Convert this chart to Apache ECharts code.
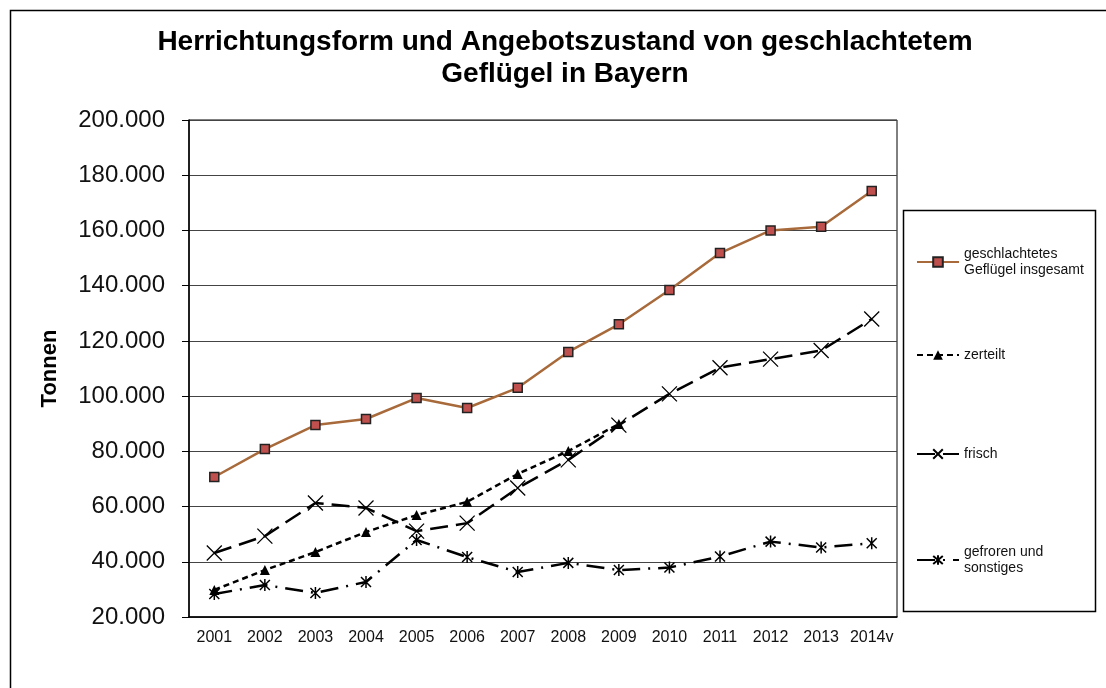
<!DOCTYPE html>
<html>
<head>
<meta charset="utf-8">
<script src="https://cdn.jsdelivr.net/npm/echarts@6/dist/echarts.min.js"></script>
<style>
  html, body { margin: 0; padding: 0; background: #fff; }
  #chart { width: 1106px; height: 688px; }
</style>
</head>
<body>
<div id="chart"></div>
<script>
const years = ['2001', '2002', '2003', '2004', '2005', '2006', '2007', '2008', '2009', '2010', '2011', '2012', '2013', '2014v']

// Tonnen
const insgesamt = [70700, 80800, 89500, 91700, 99300, 95700, 103000, 116000, 126000, 138400, 151800, 160000, 161300, 174300]
const zerteilt = [29800, 37000, 43500, 50800, 56900, 61700, 71800, 80100, 89900, null, null, null, null, null]
const frisch = [43200, 49300, 61300, 59500, 51100, 54000, 66700, 76900, 89500, 100800, 110300, 113400, 116500, 127900]
const gefroren = [28300, 31600, 28700, 32700, 47900, 41700, 36300, 39600, 37000, 37900, 41900, 47300, 45200, 46700]

const names = ['geschlachtetes Geflügel insgesamt', 'zerteilt', 'frisch', 'gefroren und sonstiges']
const legendText = {
  'geschlachtetes Geflügel insgesamt': 'geschlachtetes\nGeflügel insgesamt',
  'zerteilt': 'zerteilt',
  'frisch': 'frisch',
  'gefroren und sonstiges': 'gefroren und\nsonstiges'
}

const font = '"Liberation Sans", Arial, sans-serif'
const crossPath = 'path://M0,0L10,10M10,0L0,10'
const starPath = 'path://M0,0L10,10M10,0L0,10M5,-1L5,11'

const chart = echarts.init(document.getElementById('chart'))

function makeLegend(name, top) {
  return {
    data: [name],
    left: 916,
    top: top,
    padding: 0,
    itemWidth: 42,
    itemHeight: 12,
    itemGap: 4,
    formatter: n => legendText[n],
    textStyle: { fontFamily: font, fontSize: 14, color: '#111', lineHeight: 16 }
  }
}

const option = {
  animation: false,
  textStyle: { fontFamily: font },
  title: {
    text: 'Herrichtungsform und Angebotszustand von geschlachtetem\nGeflügel in Bayern',
    left: 560,
    top: 21,
    textAlign: 'center',
    textStyle: { fontFamily: font, fontSize: 28, fontWeight: 'bold', color: '#000', lineHeight: 32 }
  },
  legend: [
    makeLegend(names[0], 246),
    makeLegend(names[1], 347),
    makeLegend(names[2], 446),
    makeLegend(names[3], 544)
  ],
  graphic: [
    {
      type: 'rect',
      shape: { x: 10.5, y: 10.5, width: 1200, height: 800 },
      style: { fill: 'none', stroke: '#000', lineWidth: 1.5 },
      silent: true
    },
    {
      type: 'rect',
      shape: { x: 903.5, y: 210.5, width: 192, height: 401 },
      style: { fill: 'none', stroke: '#000', lineWidth: 1.5 },
      silent: true
    }
  ],
  grid: {
    left: 189,
    top: 120,
    right: 209,
    bottom: 71,
    show: true,
    borderColor: '#000',
    borderWidth: 1,
    containLabel: false
  },
  xAxis: {
    type: 'category',
    data: years,
    boundaryGap: true,
    axisLine: { lineStyle: { color: '#000', width: 1.5 } },
    axisTick: { length: 6, lineStyle: { color: '#000' } },
    axisLabel: { fontFamily: font, fontSize: 16, color: '#111', margin: 13, interval: 0 }
  },
  yAxis: {
    type: 'value',
    min: 20000,
    max: 200000,
    interval: 20000,
    name: 'Tonnen',
    nameLocation: 'middle',
    nameRotate: 90,
    nameGap: 128,
    nameTextStyle: { fontFamily: font, fontSize: 22, fontWeight: 'bold', color: '#000' },
    axisLine: { show: true, lineStyle: { color: '#000', width: 1.5 } },
    axisTick: { show: true, length: 7, lineStyle: { color: '#000' } },
    axisLabel: {
      fontFamily: font,
      fontSize: 24,
      color: '#111',
      margin: 24,
      formatter: v => (v / 1000).toFixed(0) + '.000'
    },
    splitLine: { lineStyle: { color: '#444', width: 1 } }
  },
  series: [
    {
      name: names[0],
      type: 'line',
      data: insgesamt,
      symbol: 'rect',
      symbolSize: 9,
      lineStyle: { color: '#A86A3A', width: 2.5 },
      itemStyle: { color: '#C0504D', borderColor: '#222', borderWidth: 1.5 }
    },
    {
      name: names[1],
      type: 'line',
      data: zerteilt,
      symbol: 'triangle',
      symbolSize: 10,
      lineStyle: { color: '#000', width: 2.5, type: [6, 4] },
      itemStyle: { color: '#000' }
    },
    {
      name: names[2],
      type: 'line',
      data: frisch,
      symbol: crossPath,
      symbolSize: 15,
      symbolKeepAspect: true,
      lineStyle: { color: '#000', width: 2.5, type: [18, 8] },
      itemStyle: { color: 'transparent', borderColor: '#000', borderWidth: 1.3 }
    },
    {
      name: names[3],
      type: 'line',
      data: gefroren,
      symbol: starPath,
      symbolSize: 12,
      symbolKeepAspect: true,
      lineStyle: { color: '#000', width: 2.5, type: [18, 8, 2, 8] },
      itemStyle: { color: 'transparent', borderColor: '#000', borderWidth: 1.5 }
    }
  ]
}

chart.setOption(option)
</script>
</body>
</html>
